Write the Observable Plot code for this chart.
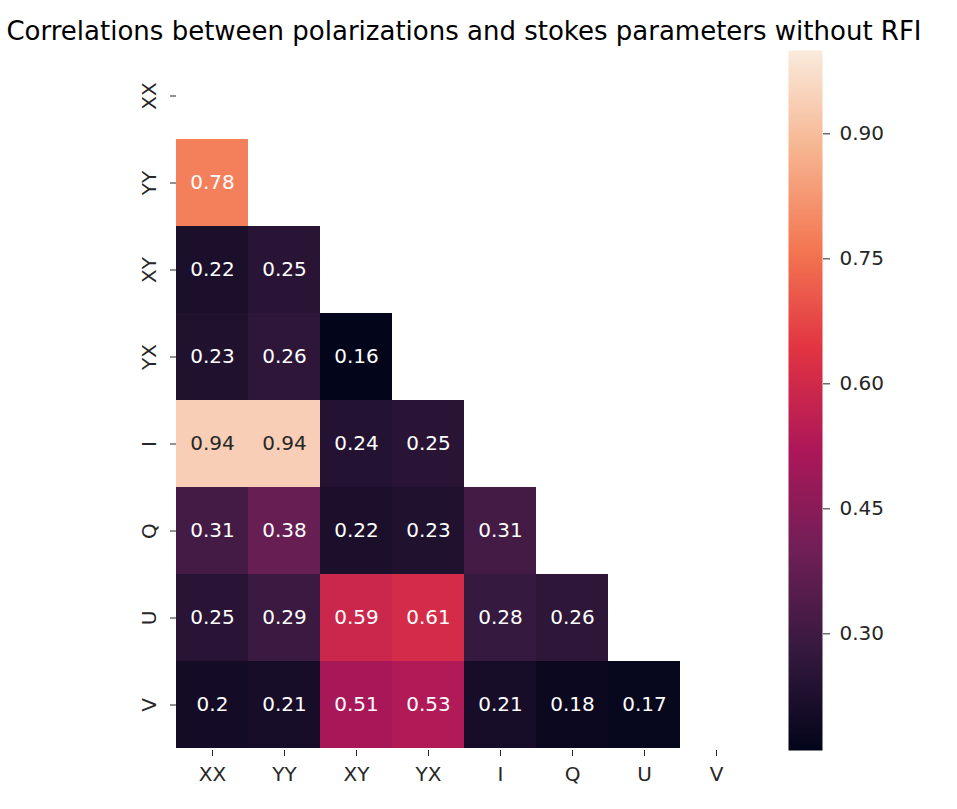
<!DOCTYPE html>
<html><head><meta charset="utf-8">
<script src="https://cdn.jsdelivr.net/npm/d3@7"></script>
<script src="https://cdn.jsdelivr.net/npm/@observablehq/plot@0.6"></script>
<style>
body{margin:0;background:#fff;font-family:"DejaVu Sans",sans-serif;}
#wrap{position:relative;width:957px;height:809px;overflow:hidden;background:#fff}
#title{position:absolute;left:0;top:15px;width:928px;text-align:center;font-size:26px;color:#000;z-index:2;white-space:nowrap;line-height:32px}
#heat{position:absolute;left:0;top:0}
#cbar{position:absolute;left:770px;top:0}
</style></head><body>
<div id="wrap">
<div id="title">Correlations between polarizations and stokes parameters without RFI</div>
<div id="heat"></div><div id="cbar"></div>
</div>
<script>
const labels = ["XX","YY","XY","YX","I","Q","U","V"];
const rowYY = [0.78];
const rowXY = [0.22, 0.25];
const rowYX = [0.23, 0.26, 0.16];
const rowI  = [0.94, 0.94, 0.24, 0.25];
const rowQ  = [0.31, 0.38, 0.22, 0.23, 0.31];
const rowU  = [0.25, 0.29, 0.59, 0.61, 0.28, 0.26];
const rowV  = [0.20, 0.21, 0.51, 0.53, 0.21, 0.18, 0.17];
const colorTicks = [0.30, 0.45, 0.60, 0.75, 0.90];
const colorDomain = [0.16, 1.0];
const rocketStops = ["#03051a","#35193e","#701f57","#ad1759","#e13342","#f37651","#f6b48f","#faebdd"];

const rows = {YY: rowYY, XY: rowXY, YX: rowYX, I: rowI, Q: rowQ, U: rowU, V: rowV};
const cells = [];
for (const [r, vals] of Object.entries(rows)) {
  vals.forEach((v, i) => cells.push({row: r, col: labels[i], value: v}));
}
const fmt = d3.format(".2~g");
const colorScale = {type: "linear", domain: colorDomain, interpolate: d3.piecewise(d3.interpolateRgb, rocketStops)};
const font = {fontFamily: "DejaVu Sans", fontSize: "20px", color: "#262626", background: "transparent"};

const heat = Plot.plot({
  width: 780, height: 800,
  marginTop: 50, marginBottom: 50, marginLeft: 176, marginRight: 28,
  style: font,
  x: {domain: labels, padding: 0, label: null, tickSize: 6, tickPadding: 10},
  y: {domain: labels, padding: 0, label: null, tickSize: 6, tickPadding: 15, tickRotate: -90},
  color: colorScale,
  marks: [
    Plot.cell(cells, {x: "col", y: "row", fill: "value", inset: 0, shapeRendering: "crispEdges"}),
    Plot.text(cells.filter(d => d.value <= 0.85), {x: "col", y: "row", text: d => fmt(d.value), fill: "#ffffff", fontSize: 20}),
    Plot.text(cells.filter(d => d.value > 0.85), {x: "col", y: "row", text: d => fmt(d.value), fill: "#262626", fontSize: 20})
  ]
});
document.getElementById("heat").appendChild(heat);

const cbar = Plot.plot({
  width: 130, height: 800,
  marginTop: 50, marginBottom: 50, marginLeft: 18, marginRight: 78,
  style: font,
  x: {domain: [0, 1], axis: null},
  y: {domain: colorDomain, axis: "right", ticks: colorTicks, tickFormat: ".2f", tickSize: 7, tickPadding: 10, label: null},
  color: colorScale,
  marks: [
    Plot.raster({x1: 0, x2: 1, y1: colorDomain[0], y2: colorDomain[1], fill: (x, y) => y, width: 2, height: 700})
  ]
});
document.getElementById("cbar").appendChild(cbar);
</script>
</body></html>
